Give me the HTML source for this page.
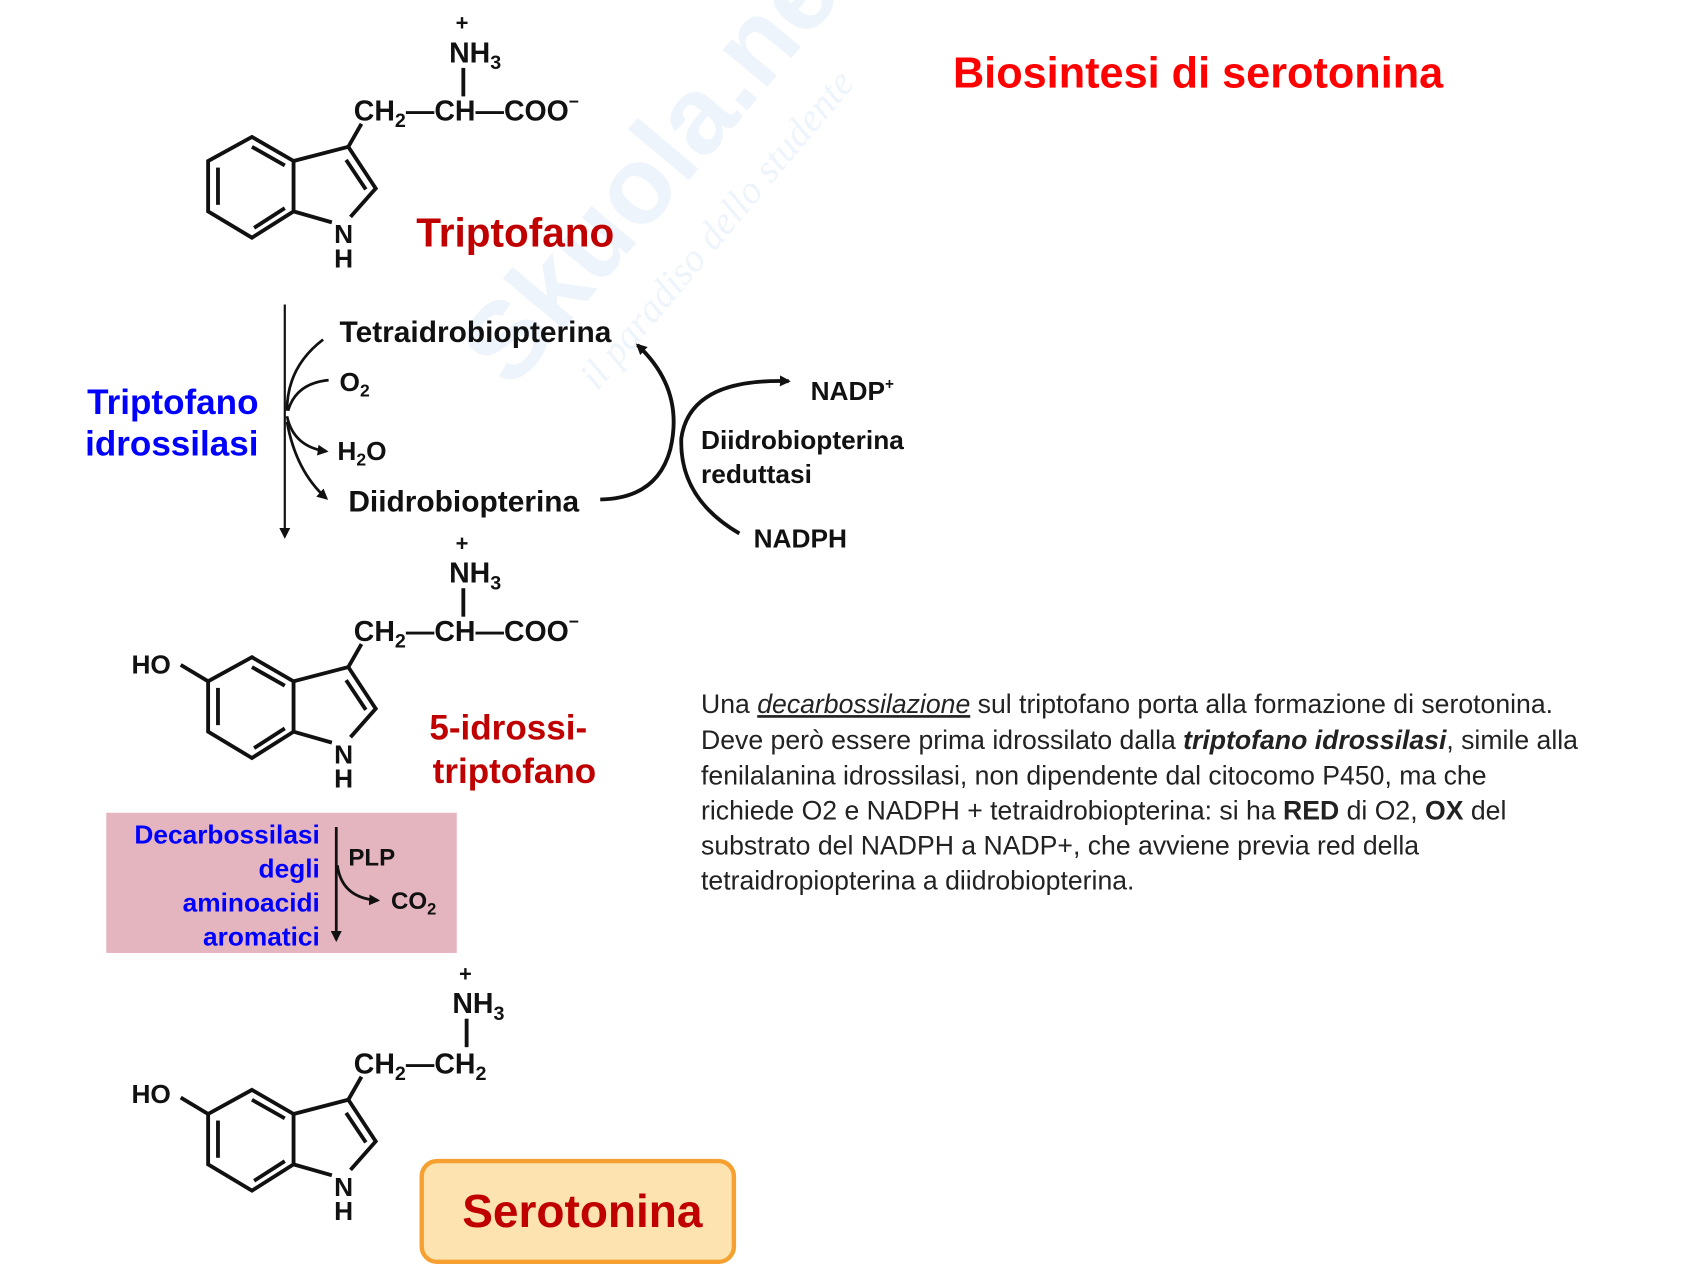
<!DOCTYPE html>
<html><head><meta charset="utf-8"><style>
html,body{margin:0;padding:0;background:#fff;}
svg{display:block;}
.m{font-family:"Liberation Sans",sans-serif;font-weight:bold;fill:#111;}
.c{font-family:"Liberation Sans",sans-serif;font-weight:bold;}
.p{font-family:"Liberation Sans",sans-serif;font-size:24.3px;fill:#222;}
</style></head><body>
<svg width="1700" height="1275" viewBox="0 0 1552 1164" xmlns="http://www.w3.org/2000/svg">
<defs>
<marker id="ar" markerWidth="10" markerHeight="10" refX="8" refY="5" orient="auto" markerUnits="userSpaceOnUse"><path d="M0,0 L10,5 L0,10 Z" fill="#111"/></marker>
<g id="ring" stroke="#111" stroke-width="3.5" fill="none">
<polygon points="230,125 268,147 268,193 230,217 190,193 190,147"/>
<line x1="199" y1="153" x2="199" y2="187"/>
<line x1="230" y1="134" x2="260" y2="151"/>
<line x1="232" y1="208" x2="260" y2="190"/>
<polyline points="268,147 318,134 343,172 320,198"/>
<line x1="268" y1="193" x2="303" y2="203"/>
<line x1="316" y1="146" x2="334" y2="173"/>
<line x1="318" y1="134" x2="330" y2="113"/>
</g>
</defs>
<!-- watermark -->
<g opacity="0.08" transform="rotate(-50 560 200)">
<text x="380" y="230" class="c" font-size="100" fill="#3a7fd0">Skuola.net</text>
<text x="430" y="290" font-family="Liberation Serif" font-style="italic" font-size="36" fill="#3a7fd0">il paradiso dello studente</text>
</g>

<!-- molecule 1 -->
<use href="#ring"/>
<text class="m" x="305" y="222" font-size="24">N</text>
<text class="m" x="305" y="244" font-size="24">H</text>
<text class="m" x="323" y="110" font-size="26">CH<tspan font-size="18" dy="6">2</tspan><tspan dy="-6">—CH—COO</tspan><tspan font-size="16" dy="-12">−</tspan></text>
<text class="m" x="410" y="57" font-size="26">NH<tspan font-size="18" dy="6">3</tspan></text>
<text class="m" x="416" y="28" font-size="20">+</text>
<line x1="423" y1="62" x2="423" y2="88" stroke="#111" stroke-width="3.5"/>
<text class="c" x="380" y="225" font-size="37" fill="#c00000">Triptofano</text>

<!-- title -->
<text class="c" x="870" y="80" font-size="39.5" fill="#ff0000">Biosintesi di serotonina</text>

<!-- reaction 1 -->
<line x1="260" y1="278" x2="260" y2="490" stroke="#111" stroke-width="2" marker-end="url(#ar)"/>
<g stroke="#111" stroke-width="2.5" fill="none">
<path d="M295,310 Q262,335 262,375"/>
<path d="M300,347 Q270,350 263,375"/>
<path d="M262,380 Q268,408 298,412" marker-end="url(#ar)"/>
<path d="M262,385 Q270,430 298,455" marker-end="url(#ar)"/>
<path d="M548,456 Q600,455 612,410 Q625,355 582,315" stroke-width="3.5" marker-end="url(#ar)"/>
<path d="M675,487 Q620,455 622,400 Q630,345 720,348" stroke-width="3.5" marker-end="url(#ar)"/>
</g>
<text class="m" x="310" y="312" font-size="27.3">Tetraidrobiopterina</text>
<text class="m" x="310" y="357" font-size="24">O<tspan font-size="16" dy="5">2</tspan></text>
<text class="m" x="308" y="420" font-size="24">H<tspan font-size="16" dy="5">2</tspan><tspan dy="-5">O</tspan></text>
<text class="m" x="318" y="467" font-size="27.3">Diidrobiopterina</text>
<text class="c" x="236" y="378" font-size="32" fill="#0000ff" text-anchor="end">Triptofano</text>
<text class="c" x="236" y="416" font-size="32" fill="#0000ff" text-anchor="end">idrossilasi</text>
<text class="m" x="740" y="365" font-size="24">NADP<tspan font-size="14" dy="-10">+</tspan></text>
<text class="m" x="640" y="410" font-size="24">Diidrobiopterina</text>
<text class="m" x="640" y="441" font-size="24">reduttasi</text>
<text class="m" x="688" y="500" font-size="24">NADPH</text>

<!-- molecule 2 -->
<g transform="translate(0,475)">
<use href="#ring"/>
<line x1="165" y1="132" x2="190" y2="147" stroke="#111" stroke-width="3.5"/>
<text class="m" x="120" y="140" font-size="24">HO</text>
<text class="m" x="305" y="222" font-size="24">N</text>
<text class="m" x="305" y="244" font-size="24">H</text>
<text class="m" x="323" y="110" font-size="26">CH<tspan font-size="18" dy="6">2</tspan><tspan dy="-6">—CH—COO</tspan><tspan font-size="16" dy="-12">−</tspan></text>
<text class="m" x="410" y="57" font-size="26">NH<tspan font-size="18" dy="6">3</tspan></text>
<text class="m" x="416" y="28" font-size="20">+</text>
<line x1="423" y1="62" x2="423" y2="88" stroke="#111" stroke-width="3.5"/>
</g>
<text class="c" x="392" y="675" font-size="32" fill="#c00000">5-idrossi-</text>
<text class="c" x="395" y="715" font-size="32" fill="#c00000">triptofano</text>

<!-- pink box -->
<rect x="97" y="742" width="320" height="128" fill="#e5b5bf"/>
<g class="c" font-size="24" fill="#0000ff" text-anchor="end">
<text x="292" y="770">Decarbossilasi</text>
<text x="292" y="801">degli</text>
<text x="292" y="832">aminoacidi</text>
<text x="292" y="863">aromatici</text>
</g>
<line x1="307" y1="755" x2="307" y2="858" stroke="#111" stroke-width="2.5" marker-end="url(#ar)"/>
<path d="M308,790 Q312,820 345,822" stroke="#111" stroke-width="2.5" fill="none" marker-end="url(#ar)"/>
<text class="m" x="318" y="790" font-size="22">PLP</text>
<text class="m" x="357" y="830" font-size="22">CO<tspan font-size="15" dy="5">2</tspan></text>

<!-- molecule 3 -->
<g transform="translate(0,870)">
<use href="#ring"/>
<line x1="165" y1="132" x2="190" y2="147" stroke="#111" stroke-width="3.5"/>
<text class="m" x="120" y="137" font-size="24">HO</text>
<text class="m" x="305" y="222" font-size="24">N</text>
<text class="m" x="305" y="244" font-size="24">H</text>
<text class="m" x="323" y="110" font-size="26">CH<tspan font-size="18" dy="6">2</tspan><tspan dy="-6">—CH</tspan><tspan font-size="18" dy="6">2</tspan></text>
<text class="m" x="413" y="55" font-size="26">NH<tspan font-size="18" dy="6">3</tspan></text>
<text class="m" x="419" y="26" font-size="20">+</text>
<line x1="426" y1="60" x2="426" y2="86" stroke="#111" stroke-width="3.5"/>
</g>
<rect x="385" y="1060" width="285" height="92" rx="14" fill="#fde3b0" stroke="#f5a030" stroke-width="4"/>
<text class="c" x="422" y="1120" font-size="42" fill="#c00000">Serotonina</text>

<!-- paragraph -->
<text class="p" x="640" y="651">Una <tspan font-style="italic" text-decoration="underline">decarbossilazione</tspan> sul triptofano porta alla formazione di serotonina.</text>
<text class="p" x="640" y="684">Deve però essere prima idrossilato dalla <tspan font-weight="bold" font-style="italic">triptofano idrossilasi</tspan>, simile alla</text>
<text class="p" x="640" y="716">fenilalanina idrossilasi, non dipendente dal citocomo P450, ma che</text>
<text class="p" x="640" y="748">richiede O2 e NADPH + tetraidrobiopterina: si ha <tspan font-weight="bold">RED</tspan> di O2, <tspan font-weight="bold">OX</tspan> del</text>
<text class="p" x="640" y="780">substrato del NADPH a NADP+, che avviene previa red della</text>
<text class="p" x="640" y="812">tetraidropiopterina a diidrobiopterina.</text>
</svg>
</body></html>
